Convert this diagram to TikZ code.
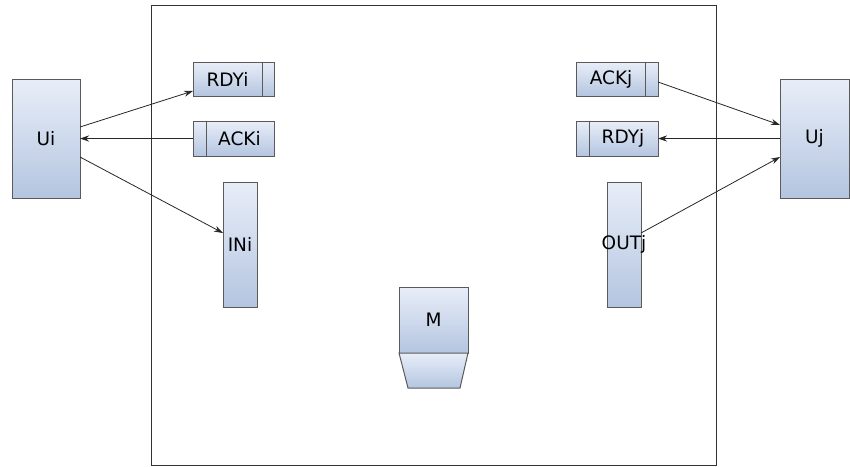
\documentclass[tikz,border=0pt]{standalone}
\usepackage{fontspec}
\setmainfont{DejaVu Sans}
\usetikzlibrary{arrows.meta,calc}
\definecolor{boxtop}{HTML}{E8EEF8}
\definecolor{boxbot}{HTML}{B4C5E0}
\definecolor{boxline}{HTML}{5A5A5A}
\tikzset{
  lbl/.style={font=\fontsize{18.5}{22}\selectfont},
  blk/.style={draw=boxline, line width=1pt, top color=boxtop, bottom color=boxbot,
    inner sep=0pt, outer sep=0pt, lbl},
  link/.style={draw=black!85, line width=0.8pt, -{Stealth[length=9pt,width=6pt]}},
}
\begin{document}
\begin{tikzpicture}[x=1pt,y=-1pt]
\useasboundingbox (0,0) rectangle (850,466);
% enclosing frame
\node[draw=black!80, line width=1pt, minimum width=565pt, minimum height=460pt, inner sep=0pt] (frame) at (433.5,235) {};

% units on either side
\node[blk, minimum width=68pt, minimum height=119pt] (Ui) at (46,138.5) {Ui};
\node[blk, minimum width=69pt, minimum height=119pt] (Uj) at (814.5,138.5) {Uj};

% registers
\node[blk, minimum width=81pt, minimum height=34pt] (RDYi) at (233.5,79) {\hspace*{-12pt}RDYi};
\node[blk, minimum width=81pt, minimum height=35pt] (ACKi) at (233.5,138.5) {\hspace*{12pt}ACKi};
\node[blk, minimum width=82pt, minimum height=34pt] (ACKj) at (617,79) {\hspace*{-12pt}ACKj};
\node[blk, minimum width=82pt, minimum height=35pt] (RDYj) at (617,138.5) {\hspace*{12pt}RDYj};
\draw[boxline, line width=1pt] ([xshift=-12pt]RDYi.north east) -- ([xshift=-12pt]RDYi.south east);
\draw[boxline, line width=1pt] ([xshift=13pt]ACKi.north west) -- ([xshift=13pt]ACKi.south west);
\draw[boxline, line width=1pt] ([xshift=-13pt]ACKj.north east) -- ([xshift=-13pt]ACKj.south east);
\draw[boxline, line width=1pt] ([xshift=13pt]RDYj.north west) -- ([xshift=13pt]RDYj.south west);

% ports
\node[blk, minimum width=34pt, minimum height=125pt] (INi) at (240,244.5) {INi};
\node[blk, minimum width=34pt, minimum height=125pt] (OUTj) at (624,244.5) {};
\node[lbl, inner sep=0pt] (OUTjlabel) at (OUTj.center) {OUTj};

% memory block
\node[blk, minimum width=69pt, minimum height=66pt] (M) at (433.5,320) {M};
\path[draw=boxline, line width=1pt, top color=boxtop, bottom color=boxbot]
  (M.south west) -- (M.south east) -- ($(M.south east)+(-8,35)$) -- ($(M.south west)+(9,35)$) -- cycle;

% handshake connectors
\draw[link] ([yshift=11.5pt]Ui.east) -- ([yshift=-12pt]RDYi.west);
\draw[link] (ACKi.west) -- (Ui.east);
\draw[link] ([yshift=-18.5pt]Ui.east) -- ([yshift=11.5pt]INi.west);
\draw[link] ([yshift=-3pt]ACKj.east) -- ([yshift=13.5pt]Uj.west);
\draw[link] (Uj.west) -- (RDYj.east);
\draw[link] ([yshift=11.5pt]OUTj.east) -- ([yshift=-18.5pt]Uj.west);
\end{tikzpicture}
\end{document}
